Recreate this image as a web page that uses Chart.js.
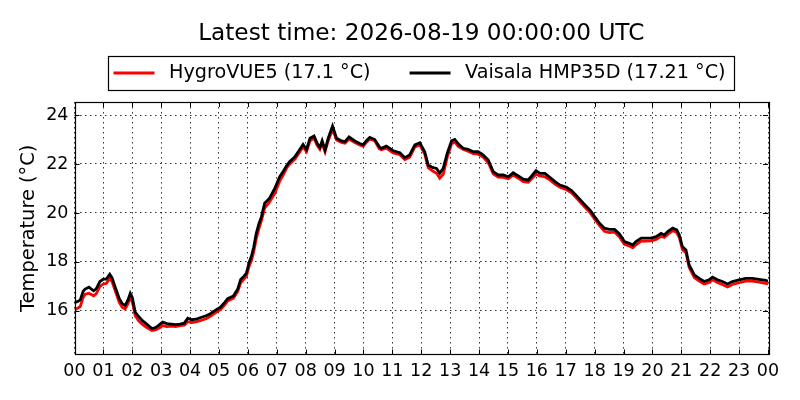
<!DOCTYPE html>
<html>
<head>
<meta charset="utf-8">
<script src="https://cdn.jsdelivr.net/npm/chart.js@4/dist/chart.umd.min.js"></script>
<style>
html,body{margin:0;padding:0;background:#fff;}
#wrap{width:800px;height:400px;}
</style>
</head>
<body>
<div id="wrap"><canvas id="c" width="800" height="400"></canvas></div>
<script>
const titleText = "Latest time: 2026-08-19 00:00:00 UTC";
const yAxisLabel = "Temperature (°C)";
const seriesNames = ["HygroVUE5 (17.1 °C)", "Vaisala HMP35D (17.21 °C)"];
const yTicks = [16, 18, 20, 22, 24];
const hourTicks = ["00","01","02","03","04","05","06","07","08","09","10","11","12","13","14","15","16","17","18","19","20","21","22","23","00"];

const hours = [0.00,0.10,0.20,0.30,0.37,0.50,0.66,0.75,0.88,1.00,1.10,1.22,1.30,1.40,1.55,1.65,1.75,1.85,1.93,2.00,
2.10,2.22,2.35,2.50,2.68,2.80,2.90,3.05,3.20,3.35,3.50,3.65,3.80,3.92,4.05,4.20,4.35,4.55,4.70,4.80,
4.95,5.05,5.20,5.30,5.50,5.65,5.75,5.85,5.95,6.05,6.12,6.20,6.29,6.38,6.47,6.58,6.75,6.93,7.10,7.22,
7.35,7.45,7.63,7.80,7.91,8.03,8.15,8.29,8.40,8.49,8.57,8.67,8.78,8.93,9.07,9.24,9.36,9.50,9.70,9.87,
9.99,10.10,10.22,10.39,10.55,10.62,10.79,11.03,11.26,11.43,11.60,11.78,11.95,12.12,12.24,12.41,12.53,12.64,12.76,12.90,
13.05,13.16,13.28,13.45,13.62,13.80,13.97,14.14,14.32,14.49,14.66,14.84,15.01,15.18,15.36,15.53,15.70,15.82,15.97,16.11,
16.28,16.45,16.63,16.80,17.03,17.20,17.38,17.61,17.84,18.00,18.17,18.34,18.51,18.69,18.86,19.03,19.20,19.32,19.43,19.61,
19.78,19.95,20.13,20.30,20.41,20.53,20.70,20.84,20.93,21.04,21.16,21.27,21.45,21.62,21.79,21.96,22.08,22.25,22.42,22.60,
22.77,23.00,23.23,23.46,23.69,23.92,24.00];

const vaisala = [16.35,16.38,16.45,16.80,16.89,16.97,16.82,16.90,17.20,17.30,17.30,17.50,17.35,17.00,16.50,16.30,16.22,16.45,16.72,16.55,
15.95,15.77,15.60,15.46,15.28,15.32,15.40,15.54,15.48,15.46,15.44,15.46,15.50,15.70,15.64,15.66,15.72,15.80,15.88,15.97,
16.08,16.15,16.35,16.50,16.61,16.90,17.28,17.40,17.54,18.00,18.22,18.60,19.17,19.55,19.85,20.40,20.60,21.00,21.48,21.69,
21.95,22.10,22.30,22.60,22.80,22.60,23.05,23.14,22.84,22.68,22.95,22.57,23.05,23.55,23.05,22.94,22.91,23.11,22.94,22.84,
22.78,22.95,23.09,23.00,22.70,22.64,22.73,22.54,22.46,22.26,22.37,22.78,22.87,22.50,21.96,21.85,21.82,21.62,21.82,22.44,
22.95,23.00,22.82,22.64,22.60,22.50,22.50,22.37,22.16,21.69,21.55,21.55,21.48,21.64,21.51,21.38,21.35,21.51,21.73,21.62,
21.62,21.46,21.28,21.14,21.05,20.91,20.69,20.40,20.12,19.85,19.58,19.38,19.33,19.33,19.14,18.83,18.76,18.69,18.83,18.97,
18.97,18.97,19.03,19.17,19.10,19.24,19.38,19.31,19.10,18.62,18.49,17.88,17.47,17.33,17.20,17.27,17.38,17.27,17.20,17.10,
17.20,17.27,17.33,17.33,17.29,17.25,17.21];

const hygro = [16.08,16.10,16.18,16.55,16.68,16.72,16.62,16.70,17.00,17.10,17.12,17.33,17.20,16.85,16.35,16.15,16.08,16.30,16.52,16.38,
15.80,15.59,15.45,15.32,15.20,15.22,15.28,15.40,15.36,15.38,15.36,15.40,15.42,15.56,15.52,15.55,15.60,15.68,15.78,15.86,
15.98,16.05,16.25,16.40,16.52,16.80,17.15,17.28,17.42,17.85,18.05,18.40,18.95,19.35,19.70,20.20,20.45,20.80,21.30,21.55,
21.85,22.00,22.20,22.50,22.70,22.50,22.95,23.05,22.75,22.60,22.85,22.50,22.95,23.42,22.98,22.88,22.85,23.02,22.88,22.78,
22.72,22.88,23.02,22.95,22.62,22.58,22.65,22.45,22.38,22.18,22.28,22.70,22.78,22.40,21.85,21.70,21.62,21.42,21.58,22.28,
22.82,22.90,22.72,22.60,22.52,22.42,22.40,22.28,22.05,21.60,21.46,21.45,21.40,21.55,21.42,21.28,21.25,21.40,21.58,21.50,
21.48,21.35,21.18,21.05,20.95,20.82,20.60,20.30,20.02,19.75,19.48,19.25,19.20,19.22,19.02,18.72,18.65,18.58,18.70,18.85,
18.85,18.86,18.92,19.05,19.00,19.12,19.28,19.20,19.00,18.50,18.38,17.78,17.36,17.22,17.10,17.16,17.27,17.16,17.08,16.98,
17.08,17.15,17.22,17.22,17.18,17.12,17.10];

const seriesColors = ["#ff0000", "#000000"];
const FONT = "'DejaVu Sans', sans-serif";

const framePlugin = {
  id: 'frame',
  afterDraw(chart) {
    const ctx = chart.ctx;
    const a = chart.chartArea;
    ctx.save();
    // inward ticks
    ctx.strokeStyle = '#000';
    ctx.lineWidth = 1;
    const tl = 5;
    const xs = chart.scales.x, ys = chart.scales.y;
    ctx.beginPath();
    for (let h = 0; h <= 24; h++) {
      const px = Math.round(xs.getPixelForValue(h)) + 0.5;
      ctx.moveTo(px, a.bottom); ctx.lineTo(px, a.bottom - tl);
      ctx.moveTo(px, a.top); ctx.lineTo(px, a.top + tl);
    }
    yTicks.forEach(v => {
      const py = Math.round(ys.getPixelForValue(v)) + 0.5;
      ctx.moveTo(a.left, py); ctx.lineTo(a.left + tl, py);
      ctx.moveTo(a.right, py); ctx.lineTo(a.right - tl, py);
    });
    ctx.stroke();
    // frame
    ctx.lineWidth = 1.2;
    ctx.strokeRect(Math.round(a.left) + 0.5, Math.round(a.top) + 0.5, Math.round(a.right - a.left), Math.round(a.bottom - a.top));

    // legend
    const fs = 19.2;
    ctx.font = fs + "px " + FONT;
    const lineLen = 41, gapLT = 14.5, gapItem = 39, padL = 5, padR = 9;
    const w0 = ctx.measureText(chart.data.datasets[0].label).width;
    const w1 = ctx.measureText(chart.data.datasets[1].label).width;
    const total = padL + lineLen + gapLT + w0 + gapItem + lineLen + gapLT + w1 + padR;
    const cx = (a.left + a.right) / 2;
    const bx = Math.round(cx - total / 2) + 0.5;
    const by = 56.5, bh = 34;
    ctx.lineWidth = 1.2;
    ctx.strokeStyle = '#000';
    ctx.strokeRect(bx, by, Math.round(total), bh);
    const ly = 73;
    let x = bx + padL;
    [0, 1].forEach((i, k) => {
      const ds = chart.data.datasets[i];
      ctx.strokeStyle = ds.borderColor;
      ctx.lineWidth = 2.8;
      ctx.beginPath();
      ctx.moveTo(x, ly); ctx.lineTo(x + lineLen, ly);
      ctx.stroke();
      x += lineLen + gapLT;
      ctx.fillStyle = '#000';
      ctx.textBaseline = 'middle';
      ctx.textAlign = 'left';
      ctx.fillText(ds.label, x, ly);
      x += (k === 0 ? w0 : w1) + gapItem;
    });
    ctx.restore();
  }
};

new Chart(document.getElementById('c'), {
  type: 'line',
  data: {
    datasets: [
      { label: seriesNames[0], data: hours.map((h, i) => ({x: h, y: hygro[i]})),
        borderColor: seriesColors[0], borderWidth: 2.8, pointRadius: 0, tension: 0, fill: false, order: 1 },
      { label: seriesNames[1], data: hours.map((h, i) => ({x: h, y: vaisala[i]})),
        borderColor: seriesColors[1], borderWidth: 2.8, pointRadius: 0, tension: 0, fill: false, order: 0 }
    ]
  },
  options: {
    responsive: false,
    animation: false,
    devicePixelRatio: 1,
    layout: { padding: { left: 0, right: 32, top: 0, bottom: 0 } },
    plugins: {
      legend: { display: false },
      tooltip: { enabled: false },
      title: {
        display: true, text: titleText, color: '#000', fullSize: false,
        font: { family: FONT, size: 23.2, weight: 'normal' },
        padding: { top: 20.4, bottom: 53.8 }
      }
    },
    scales: {
      x: {
        type: 'linear', min: 0, max: 24,
        afterFit(s) { s.height = 45.5; },
        afterBuildTicks(s) { s.ticks = hourTicks.map((t, i) => ({value: i})); },
        ticks: {
          autoSkip: false, maxRotation: 0, minRotation: 0, padding: 6, color: '#000',
          font: { family: FONT, size: 17.5 },
          callback: (v, i) => hourTicks[i]
        },
        grid: { color: 'rgba(0,0,0,0.8)', lineWidth: 1, drawTicks: false },
        border: { display: false, dash: [1.5, 3.5] }
      },
      y: {
        type: 'linear', min: 14.22, max: 24.53,
        afterFit(s) { s.width = 74.5; },
        afterBuildTicks(s) { s.ticks = yTicks.map(v => ({value: v})); },
        ticks: { padding: 6, color: '#000', font: { family: FONT, size: 17.5 }, callback: v => String(v) },
        title: { display: true, text: yAxisLabel, color: '#000', font: { family: FONT, size: 19.4 }, padding: { top: 17, bottom: 0 } },
        grid: { color: 'rgba(0,0,0,0.8)', lineWidth: 1, drawTicks: false },
        border: { display: false, dash: [1.5, 3.5] }
      }
    }
  },
  plugins: [framePlugin]
});
</script>
</body>
</html>
